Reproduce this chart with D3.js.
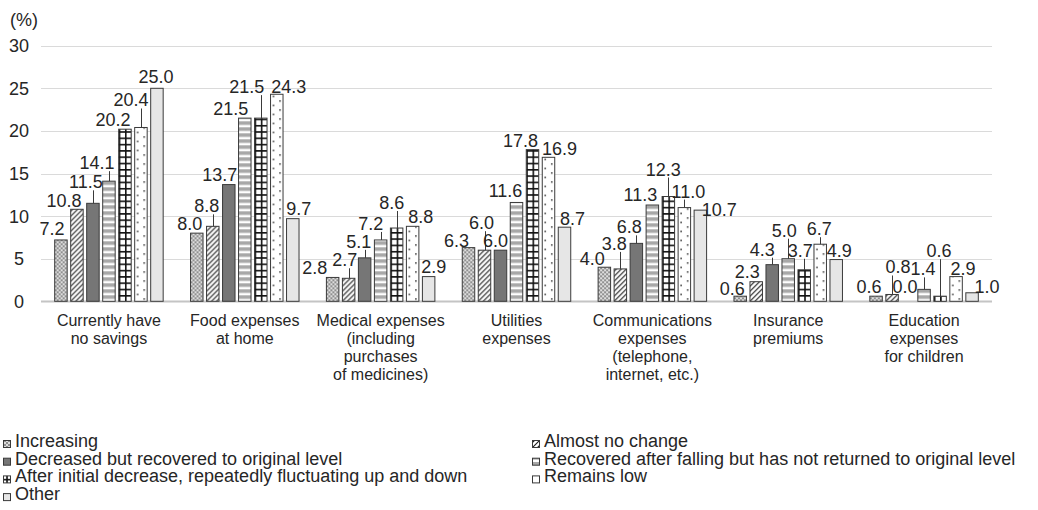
<!DOCTYPE html>
<html>
<head>
<meta charset="utf-8">
<script src="https://cdn.jsdelivr.net/npm/d3@7"></script>
<style>
  html, body { margin: 0; padding: 0; background: #fff; }
  svg { display: block; font-family: "Liberation Sans", Arial, sans-serif; }
</style>
</head>
<body>
<svg id="chart" width="1038" height="510"></svg>
<script>
// Categories (wrapped onto lines as printed under the axis)
const categories = [
  ["Currently have", "no savings"],
  ["Food expenses", "at home"],
  ["Medical expenses", "(including", "purchases", "of medicines)"],
  ["Utilities", "expenses"],
  ["Communications", "expenses", "(telephone,", "internet, etc.)"],
  ["Insurance", "premiums"],
  ["Education", "expenses", "for children"]
];

const seriesNames = [
  "Increasing",
  "Almost no change",
  "Decreased but recovered to original level",
  "Recovered after falling but has not returned to original level",
  "After initial decrease, repeatedly fluctuating up and down",
  "Remains low",
  "Other"
];

// Share of respondents (%) per category
const increasing           = [7.2, 8.0, 2.8, 6.3, 4.0, 0.6, 0.6];
const almostNoChange       = [10.8, 8.8, 2.7, 6.0, 3.8, 2.3, 0.8];
const decreasedRecovered   = [11.5, 13.7, 5.1, 6.0, 6.8, 4.3, 0.0];
const recoveredNotOriginal = [14.1, 21.5, 7.2, 11.6, 11.3, 5.0, 1.4];
const fluctuating          = [20.2, 21.5, 8.6, 17.8, 12.3, 3.7, 0.6];
const remainsLow           = [20.4, 24.3, 8.8, 16.9, 11.0, 6.7, 2.9];
const other                = [25.0, 9.7, 2.9, 8.7, 10.7, 4.9, 1.0];

const seriesValues = [increasing, almostNoChange, decreasedRecovered,
  recoveredNotOriginal, fluctuating, remainsLow, other];

const yTicks = [0, 5, 10, 15, 20, 25, 30];

// Data label placement: [dx, dy] in px from the default spot above each bar
const labelNudge = [
  [[-9,-1],[-7,1],[-18,1],[-12,3],[-12,2],[-8,3],[-7,1]],
  [[-13,2],[-6,-10],[-4,-8],[-3,-17],[-6,-15],[-9,0],[6,-17]],
  [[-7,-11],[-9,0],[-6,-6],[-5,1],[-7,-6],[-10,-5],[-3,-4]],
  [[-12,-8],[-14,1],[-10,-6],[-11,-1],[-12,0],[-4,-18],[-1,-10]],
  [[-12,1],[-14,-21],[-5,-15],[-12,1],[-5,-17],[-4,-9],[-1,-35]],
  [[-10,-17],[12,3],[8,1],[11,2],[4,-6],[-1,-5],[7,2]],
  [[-1,-1],[6,0],[5,0],[8,2],[19,10],[3,1],[15,4]]
];

const textColor = "#262626";
const svg = d3.select("#chart");

// ---- fill patterns ----
const defs = svg.append("defs");
const bw = 12.5;

// checkerboard
let p = defs.append("pattern").attr("id", "pat0").attr("patternUnits", "userSpaceOnUse")
  .attr("width", 4).attr("height", 4);
p.append("rect").attr("width", 4).attr("height", 4).attr("fill", "#dedede");
p.append("rect").attr("width", 2).attr("height", 2).attr("fill", "#8f8f8f");
p.append("rect").attr("x", 2).attr("y", 2).attr("width", 2).attr("height", 2).attr("fill", "#8f8f8f");

// upward diagonal hatch
p = defs.append("pattern").attr("id", "pat1").attr("patternUnits", "userSpaceOnUse")
  .attr("width", 5).attr("height", 5);
p.append("rect").attr("width", 5).attr("height", 5).attr("fill", "#fff");
p.append("path").attr("d", "M-1,6 L6,-1 M-1,1 L1,-1 M4,6 L6,4")
  .attr("stroke", "#1a1a1a").attr("stroke-width", 1.1);

// solid dark gray
p = defs.append("pattern").attr("id", "pat2").attr("patternUnits", "userSpaceOnUse")
  .attr("width", 4).attr("height", 4);
p.append("rect").attr("width", 4).attr("height", 4).attr("fill", "#767676");

// horizontal stripes
p = defs.append("pattern").attr("id", "pat3").attr("patternUnits", "userSpaceOnUse")
  .attr("width", 6).attr("height", 6);
p.append("rect").attr("width", 6).attr("height", 6).attr("fill", "#fff");
p.append("rect").attr("y", 0).attr("width", 6).attr("height", 3.6).attr("fill", "#a8a8a8");

// grid
p = defs.append("pattern").attr("id", "pat4").attr("patternUnits", "userSpaceOnUse")
  .attr("width", bw / 2).attr("height", 6.3);
p.append("rect").attr("width", bw / 2).attr("height", 6.3).attr("fill", "#fff");
p.append("rect").attr("x", 0).attr("width", 1.6).attr("height", 6.3).attr("fill", "#111");
p.append("rect").attr("y", 0).attr("width", bw / 2).attr("height", 1.6).attr("fill", "#111");

// sparse dots
p = defs.append("pattern").attr("id", "pat5").attr("patternUnits", "userSpaceOnUse")
  .attr("width", bw).attr("height", 9);
p.append("rect").attr("width", bw).attr("height", 9).attr("fill", "#fff");
p.append("rect").attr("x", 2.3).attr("y", 1.5).attr("width", 1.4).attr("height", 1.4).attr("fill", "#111");
p.append("rect").attr("x", 8.8).attr("y", 6).attr("width", 1.4).attr("height", 1.4).attr("fill", "#111");

// light gray
p = defs.append("pattern").attr("id", "pat6").attr("patternUnits", "userSpaceOnUse")
  .attr("width", 4).attr("height", 4);
p.append("rect").attr("width", 4).attr("height", 4).attr("fill", "#e6e6e6");

const fills = seriesNames.map((_, i) => `url(#pat${i})`);

// ---- scales ----
const x0 = d3.scaleBand().domain(d3.range(categories.length)).range([41, 992]);
const x1 = d3.scaleBand().domain(d3.range(seriesNames.length))
  .range([(x0.bandwidth() - 112) / 2, (x0.bandwidth() + 112) / 2])
  .paddingInner(0.22).paddingOuter(0.11);
const y = d3.scaleLinear().domain([0, 30]).range([301.3, 45.7]);

// ---- gridlines and y labels ----
svg.append("g").selectAll("line").data(yTicks).join("line")
  .attr("x1", 41).attr("x2", 992)
  .attr("y1", d => Math.round(y(d)) + 0.5).attr("y2", d => Math.round(y(d)) + 0.5)
  .attr("stroke", d => d === 0 ? "#c4c4c4" : "#dadada")
  .attr("stroke-width", d => d === 0 ? 2 : 1);

svg.append("g").selectAll("text").data(yTicks).join("text")
  .attr("x", 19).attr("y", d => y(d) + 6.5)
  .attr("text-anchor", "middle").attr("font-size", 18).attr("fill", textColor)
  .text(d => d);

svg.append("text").attr("x", 10).attr("y", 26).attr("font-size", 18)
  .attr("fill", textColor).text("(%)");

// ---- bars ----
const bars = [];
seriesValues.forEach((vals, s) => {
  vals.forEach((v, c) => {
    bars.push({ s, c, v, cx: x0(c) + x1(s) + x1.bandwidth() / 2, left: x0(c) + x1(s) });
  });
});

const barG = svg.append("g");
bars.forEach(b => {
  if (b.v <= 0) return;
  const g = barG.append("g").attr("transform", `translate(${b.left},${y(0)})`);
  g.append("rect")
    .attr("x", 0).attr("y", y(b.v) - y(0))
    .attr("width", x1.bandwidth()).attr("height", y(0) - y(b.v))
    .attr("fill", fills[b.s])
    .attr("stroke", "#3a3a3a").attr("stroke-width", 1);
});

// ---- data labels with leader lines ----
const labelG = svg.append("g");
bars.forEach(b => {
  const [dx, dy] = labelNudge[b.s][b.c];
  const top = y(b.v);
  const baseY = top - 4 + dy;
  if (dy < -4 && b.v > 0) {
    labelG.append("line")
      .attr("x1", Math.round(b.cx) + 0.5).attr("x2", Math.round(b.cx) + 0.5)
      .attr("y1", baseY + 2).attr("y2", top)
      .attr("stroke", "#3a3a3a").attr("stroke-width", 1);
  }
  labelG.append("text")
    .attr("x", b.cx + dx).attr("y", baseY)
    .attr("text-anchor", "middle").attr("font-size", 18).attr("fill", textColor)
    .text(b.v.toFixed(1));
});

// ---- category labels ----
const catG = svg.append("g");
categories.forEach((lines, c) => {
  const t = catG.append("text")
    .attr("text-anchor", "middle").attr("font-size", 16).attr("fill", textColor);
  lines.forEach((ln, k) => {
    t.append("tspan").attr("x", x0(c) + x0.bandwidth() / 2).attr("y", 326 + k * 18).text(ln);
  });
});

// ---- legend ----
const legG = svg.append("g");
seriesNames.forEach((name, i) => {
  const col = i % 2, row = Math.floor(i / 2);
  const sx = col === 0 ? 3 : 532;
  const by = 447 + row * 17.7;
  legG.append("rect")
    .attr("x", sx + 0.5).attr("y", by - 6.5).attr("width", 7).attr("height", 7)
    .attr("fill", fills[i]).attr("stroke", "#3a3a3a").attr("stroke-width", 1);
  legG.append("text")
    .attr("x", sx + 12).attr("y", by)
    .attr("font-size", 18).attr("fill", textColor).text(name);
});
</script>
</body>
</html>
